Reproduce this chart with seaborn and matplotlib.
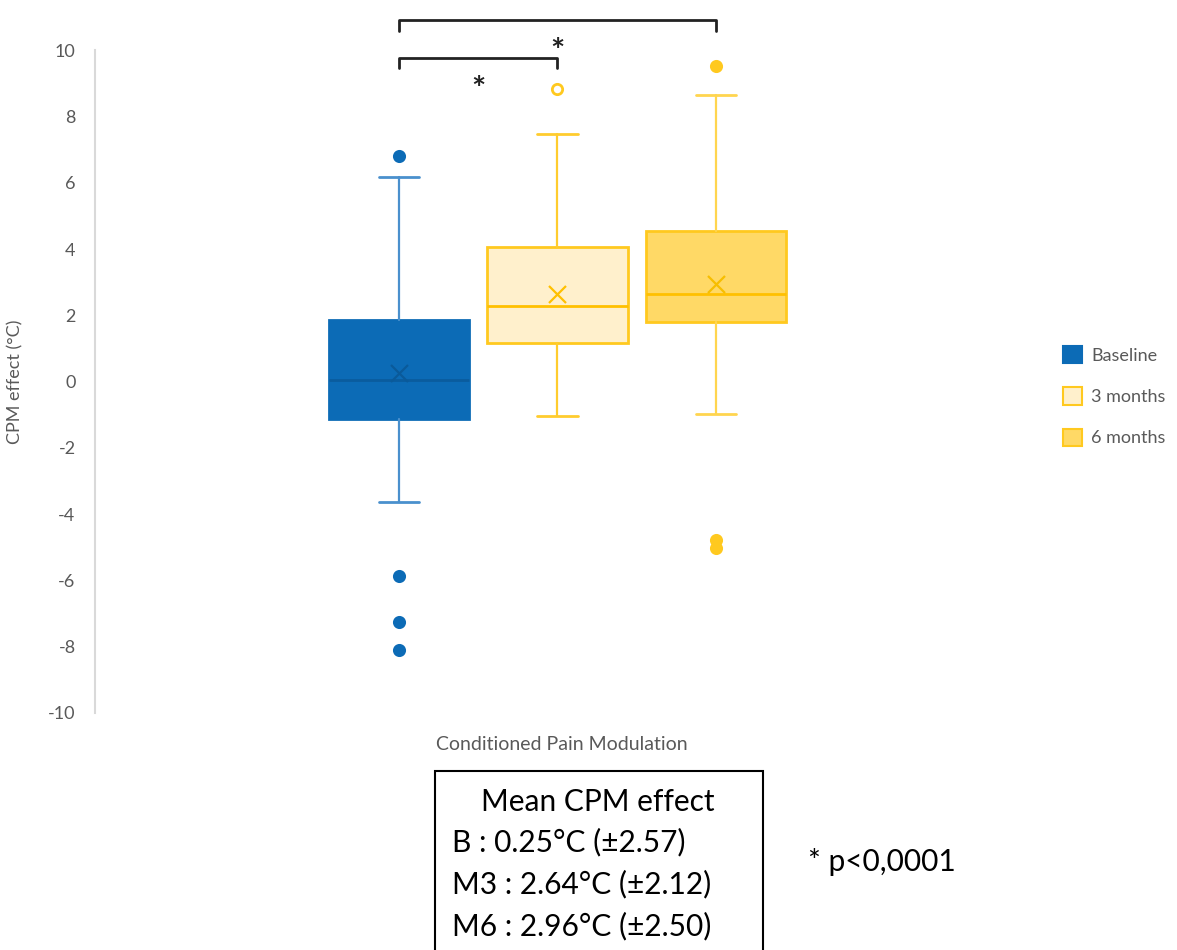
import matplotlib
matplotlib.use("Agg")
import matplotlib.pyplot as plt
from matplotlib.patches import Patch, Rectangle
import pandas as pd
import seaborn as sns

# === Summary stats ===
groups = ["Baseline", "3 months", "6 months"]
whislo = [-3.62, -1.03, -0.97]
q1 = [-1.12, 1.18, 1.81]
med = [0.06, 2.29, 2.65]
q3 = [1.87, 4.07, 4.55]
whishi = [6.18, 7.48, 8.66]
means = [0.25, 2.64, 2.96]
fliers = [[6.82, -5.88, -7.24, -8.11], [8.84], [9.53, -4.77, -5.01]]

summary_lines = ["B : 0.25°C (±2.57)", "M3 : 2.64°C (±2.12)", "M6 : 2.96°C (±2.50)"]
yticks = list(range(-10, 11, 2))

# styles
fills = ["#0C6BB6", "#FFF0CC", "#FFD966"]
edges = ["#0C6BB6", "#FFC91F", "#FFC91F"]
whisk = ["#4A90CD", "#FFCC2E", "#FFD54F"]
medc = ["#0A5C9E", "#FFC000", "#FFC000"]
meanc = ["#0A5A9A", "#FFC000", "#F7BE00"]
flier_face = ["#0C6BB6", "white", "#FFC91F"]

sns.set_theme(style="white")
plt.rcParams["font.family"] = ["Lato", "DejaVu Sans"]
plt.rcParams["axes.unicode_minus"] = False

fig, ax = plt.subplots(figsize=(11.77, 9.5), dpi=100)
fig.subplots_adjust(left=0.0807, right=0.8666, bottom=0.2495, top=0.947)

step = 0.267
pos = [(i - 1) * step for i in range(len(groups))]

for i, g in enumerate(groups):
    st = [dict(label=g, whislo=whislo[i], q1=q1[i], med=med[i], q3=q3[i],
               whishi=whishi[i], fliers=[])]
    ax.bxp(st, positions=[pos[i]], widths=0.237, capwidths=0.068,
           patch_artist=True, showfliers=False, manage_ticks=False,
           boxprops=dict(facecolor=fills[i], edgecolor=edges[i], linewidth=2),
           medianprops=dict(color=medc[i], linewidth=2),
           whiskerprops=dict(color=whisk[i], linewidth=1.6),
           capprops=dict(color=whisk[i], linewidth=2))

# outliers + means via seaborn
fl = pd.DataFrame([(pos[i], v, g) for i, g in enumerate(groups) for v in fliers[i]],
                  columns=["x", "y", "group"])
for i, g in enumerate(groups):
    d = fl[fl.group == g]
    sns.scatterplot(data=d, x="x", y="y", ax=ax, s=55, marker="o",
                    color=flier_face[i], edgecolor=edges[i], linewidth=2,
                    clip_on=False, zorder=4, legend=False)
mdf = pd.DataFrame({"x": pos, "y": means, "group": groups})
for i, g in enumerate(groups):
    sns.scatterplot(data=mdf[mdf.group == g], x="x", y="y", ax=ax, marker="x",
                    s=150, color=meanc[i], linewidth=1.6, zorder=5, legend=False)

ax.set_xlim(-0.78, 0.78)
ax.set_ylim(-10, 10)
ax.set_yticks(yticks)
ax.set_xticks([])
ax.tick_params(axis="y", colors="#595959", labelsize=13, length=0, pad=14)
ax.set_xlabel("Conditioned Pain Modulation", color="#595959", fontsize=14, labelpad=20)
ax.xaxis.set_label_coords(0.505, -0.035)
ax.set_ylabel("CPM effect (°C)", color="#595959", fontsize=13, labelpad=18)
sns.despine(ax=ax, bottom=True)
ax.spines["left"].set_color("#D9D9D9")
ax.spines["left"].set_linewidth(1.5)


# significance brackets
def bracket(x0, x1, y, h, star_x, star_y):
    ax.plot([x0, x0, x1, x1], [y - h, y, y, y - h], color="#222222", lw=2,
            clip_on=False, solid_joinstyle="round")
    ax.text(star_x, star_y, "*", ha="center", va="center", fontsize=24,
            fontweight="bold", color="#222222", clip_on=False)


bracket(pos[0], pos[2], 10.92, 0.33, pos[1], 9.95)
bracket(pos[0], pos[1], 9.77, 0.3, (pos[0] + pos[1]) / 2, 8.78)

# legend
handles = [Patch(facecolor=fills[i], edgecolor=edges[i], linewidth=1.5, label=g)
           for i, g in enumerate(groups)]
fig.legend(handles=handles, loc="center left", bbox_to_anchor=(0.889, 0.583),
           frameon=False, fontsize=13, labelcolor="#595959", handlelength=1.1,
           handleheight=1.1, labelspacing=1.3, handletextpad=0.5)

# summary box
fig.patches.append(Rectangle((435 / 1177, -0.05), 328 / 1177, 0.05 + 179 / 950,
                             transform=fig.transFigure, fill=False,
                             edgecolor="black", linewidth=1.5))
fig.text(598 / 1177, 1 - 802 / 950, "Mean CPM effect", ha="center", va="center",
         fontsize=21.5, color="black")
for k, line in enumerate(summary_lines):
    fig.text(452 / 1177, 1 - (842 + 42 * k) / 950, line, ha="left", va="center",
             fontsize=21.5, color="black")
fig.text(808 / 1177, 1 - 862 / 950, "* p<0,0001", ha="left", va="center",
         fontsize=21.5, color="black")

fig.savefig("out.png", dpi=100)
